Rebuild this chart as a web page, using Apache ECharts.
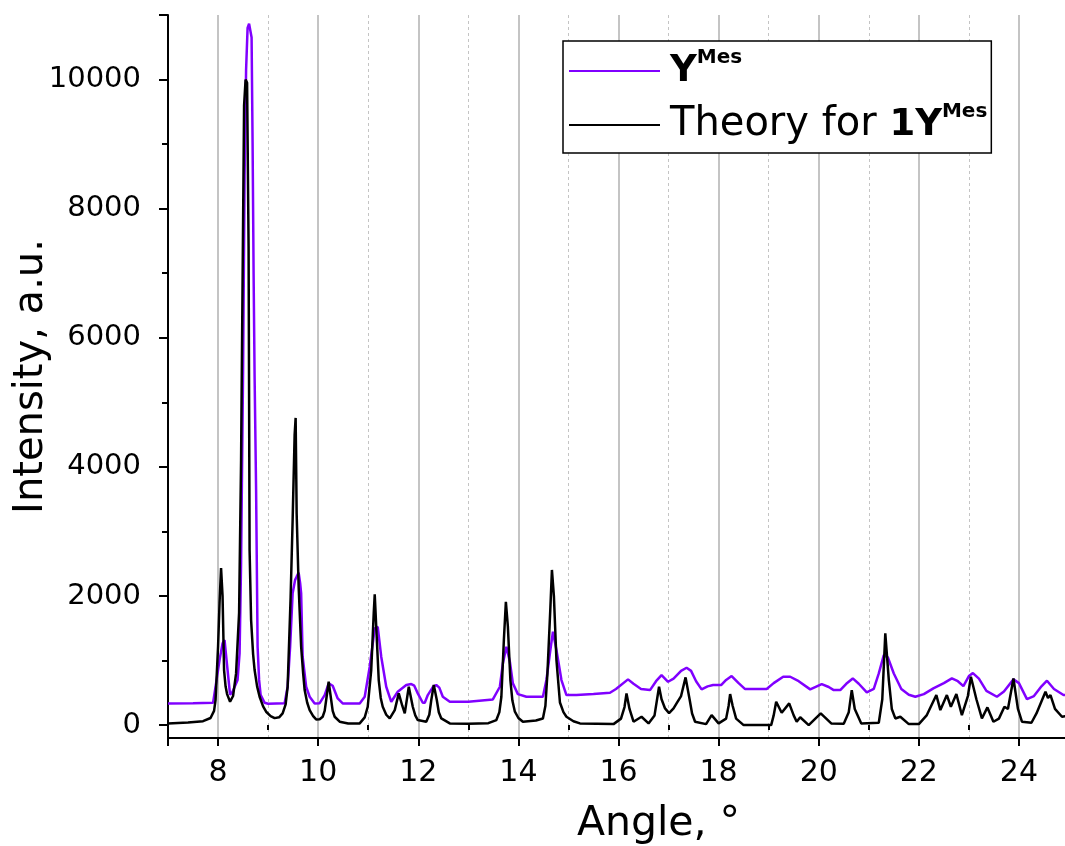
<!DOCTYPE html>
<html>
<head>
<meta charset="utf-8">
<script src="https://cdn.jsdelivr.net/npm/echarts@6/dist/echarts.min.js"></script>
<style>
  html, body { margin: 0; padding: 0; background: #fff; }
  #chart { width: 1065px; height: 846px; }
</style>
</head>
<body>
<div id="chart"></div>
<script>
// measured pattern, [angle, intensity]
const measured = [
  [7.0, 335], [7.5, 340], [7.9, 345], [7.96, 646], [8.03, 1008], [8.09, 1266], [8.13, 1318],
  [8.19, 853], [8.24, 470], [8.29, 517], [8.39, 698], [8.43, 1111], [8.46, 2506], [8.5, 5500],
  [8.53, 8500], [8.56, 10150], [8.59, 10800], [8.62, 10866], [8.65, 10850], [8.67, 10650],
  [8.69, 9000], [8.71, 7000], [8.73, 5400], [8.76, 3643], [8.79, 1214], [8.82, 700], [8.85, 470],
  [8.93, 346], [9.0, 330], [9.33, 340], [9.39, 594], [9.44, 1214], [9.49, 2041], [9.54, 2250],
  [9.57, 2299], [9.61, 2361], [9.64, 2200], [9.66, 2041], [9.69, 1059], [9.76, 594], [9.83, 439],
  [9.93, 336], [10.03, 340], [10.13, 465], [10.21, 646], [10.29, 610], [10.39, 413], [10.49, 336],
  [10.83, 336], [10.93, 439], [11.03, 904], [11.13, 1499], [11.19, 1520], [11.26, 1059],
  [11.36, 594], [11.46, 361], [11.59, 517], [11.76, 620], [11.86, 635], [11.92, 610], [11.99, 491],
  [12.09, 346], [12.13, 346], [12.19, 465], [12.3, 600], [12.36, 620], [12.42, 580], [12.49, 439],
  [12.63, 361], [13.0, 361], [13.49, 398], [13.63, 594], [13.69, 956], [13.76, 1214], [13.79, 1204],
  [13.83, 981], [13.89, 646], [13.99, 480], [14.16, 439], [14.49, 439], [14.56, 698], [14.63, 1111],
  [14.69, 1447], [14.71, 1447], [14.76, 1163], [14.86, 698], [14.96, 465], [15.16, 465], [15.5, 480],
  [15.83, 501], [15.95, 560], [16.19, 708], [16.3, 640], [16.45, 560], [16.63, 542], [16.75, 680],
  [16.86, 775], [16.99, 671], [17.1, 720], [17.25, 840], [17.36, 888], [17.45, 840], [17.55, 680],
  [17.66, 553], [17.78, 600], [17.89, 620], [18.05, 620], [18.15, 700], [18.26, 760], [18.4, 650],
  [18.53, 558], [18.96, 558], [19.1, 650], [19.29, 749], [19.43, 749], [19.6, 680], [19.83, 553],
  [20.06, 635], [20.2, 590], [20.3, 542], [20.43, 542], [20.55, 640], [20.68, 723], [20.8, 640],
  [20.96, 506], [21.1, 560], [21.2, 800], [21.3, 1085], [21.38, 1050], [21.5, 800], [21.65, 560],
  [21.8, 470], [21.93, 439], [22.1, 480], [22.29, 569], [22.5, 650], [22.66, 723], [22.78, 680],
  [22.89, 604], [23.0, 760], [23.08, 805], [23.2, 720], [23.35, 530], [23.56, 439], [23.7, 520],
  [23.89, 708], [24.0, 650], [24.16, 403], [24.3, 450], [24.45, 600], [24.56, 687], [24.7, 560],
  [24.89, 465], [25.0, 470]
];

// calculated pattern for 1Y
const theory = [
  [7.0, 25], [7.4, 40], [7.7, 60], [7.85, 110], [7.92, 220], [7.95, 388], [8.0, 1214], [8.03, 1900],
  [8.06, 2433], [8.09, 2000], [8.12, 853], [8.15, 600], [8.18, 480], [8.24, 361], [8.3, 450],
  [8.36, 801], [8.42, 1736], [8.46, 4108], [8.49, 6900], [8.52, 9600], [8.55, 10000], [8.58, 9950],
  [8.61, 7400], [8.63, 2713], [8.66, 1628], [8.7, 1100], [8.73, 853], [8.78, 600], [8.83, 439],
  [8.9, 290], [8.96, 207], [9.05, 140], [9.13, 108], [9.22, 120], [9.29, 181], [9.35, 320],
  [9.39, 594], [9.45, 1989], [9.49, 3178], [9.53, 4500], [9.55, 4758], [9.57, 3281], [9.61, 2144],
  [9.66, 1214], [9.7, 800], [9.73, 542], [9.78, 350], [9.83, 232], [9.9, 140], [9.96, 88],
  [10.03, 90], [10.09, 129], [10.13, 220], [10.16, 388], [10.21, 671], [10.26, 388], [10.29, 220],
  [10.33, 129], [10.43, 52], [10.6, 26], [10.83, 26], [10.93, 120], [10.99, 284], [11.06, 853],
  [11.11, 1731], [11.13, 2026], [11.16, 1524], [11.21, 698], [11.25, 420], [11.29, 284], [11.36, 160],
  [11.43, 103], [11.53, 232], [11.61, 491], [11.64, 517], [11.68, 300], [11.73, 181], [11.81, 594],
  [11.84, 604], [11.89, 284], [11.94, 150], [11.99, 78], [12.16, 52], [12.22, 160], [12.26, 388],
  [12.31, 620], [12.37, 388], [12.41, 200], [12.46, 103], [12.63, 26], [13.0, 20], [13.4, 30],
  [13.56, 78], [13.62, 200], [13.66, 439], [13.71, 1318], [13.75, 1911], [13.79, 1524], [13.84, 698],
  [13.88, 380], [13.93, 207], [14.0, 110], [14.09, 52], [14.35, 70], [14.49, 103], [14.54, 300],
  [14.58, 801], [14.64, 1834], [14.67, 2403], [14.71, 1989], [14.76, 1008], [14.83, 350],
  [14.9, 200], [14.96, 129], [15.1, 60], [15.23, 26], [15.9, 15], [16.05, 100], [16.12, 280],
  [16.16, 491], [16.22, 250], [16.3, 52], [16.46, 129], [16.6, 26], [16.72, 150], [16.81, 594],
  [16.86, 400], [16.93, 258], [17.01, 186], [17.1, 260], [17.16, 336], [17.25, 450], [17.34, 739],
  [17.42, 400], [17.47, 180], [17.53, 52], [17.75, 15], [17.86, 155], [18.0, 26], [18.15, 100],
  [18.2, 300], [18.23, 480], [18.28, 300], [18.35, 100], [18.5, 0], [19.05, 0], [19.1, 150],
  [19.15, 361], [19.26, 191], [19.41, 336], [19.5, 150], [19.56, 52], [19.63, 122], [19.8, 0],
  [20.04, 181], [20.25, 26], [20.5, 20], [20.6, 200], [20.66, 542], [20.72, 250], [20.85, 26],
  [21.2, 36], [21.27, 400], [21.33, 1421], [21.4, 700], [21.46, 250], [21.53, 103], [21.63, 129],
  [21.8, 15], [22.0, 15], [22.16, 155], [22.35, 465], [22.43, 232], [22.56, 465], [22.64, 284],
  [22.75, 480], [22.86, 155], [22.98, 450], [23.04, 749], [23.15, 400], [23.26, 103], [23.37, 274],
  [23.49, 52], [23.6, 100], [23.71, 284], [23.78, 250], [23.89, 723], [23.98, 250], [24.06, 52],
  [24.25, 36], [24.35, 181], [24.53, 517], [24.58, 420], [24.63, 465], [24.72, 250], [24.86, 129],
  [25.0, 150]
];

// ticks
const xMajorTicks = [7, 8, 10, 12, 14, 16, 18, 20, 22, 24];
const xLabels = [8, 10, 12, 14, 16, 18, 20, 22, 24];
const xMinorTicks = [9, 11, 13, 15, 17, 19, 21, 23];
const yMajorTicks = [0, 2000, 4000, 6000, 8000, 10000, 11000];
const yLabels = [0, 2000, 4000, 6000, 8000, 10000];
const yMinorTicks = [1000, 3000, 5000, 7000, 9000];

const FONT = 'DejaVu Sans';

const chart = echarts.init(document.getElementById('chart'));

const xRange = { min: 7, max: 25 };
const yRange = { min: -200, max: 11000 };

chart.setOption({
  backgroundColor: '#fff',
  animation: false,
  grid: {
    left: 168, top: 15, right: -4, bottom: 108,
    containLabel: false,
    outerBoundsMode: 'none'
  },
  legend: {
    orient: 'vertical',
    left: 563,
    top: 41,
    padding: [7, 4, 5, 6],
    itemGap: 8,
    itemWidth: 91,
    itemHeight: 2,
    icon: 'rect',
    borderColor: '#000',
    borderWidth: 1.5,
    backgroundColor: '#fff',
    data: ['YMes', 'Theory for 1YMes'],
    formatter: name => name === 'YMes'
      ? '{g|}{b|Y}{sup|Mes}'
      : '{g|}{n|Theory for }{b|1Y}{sup|Mes}',
    textStyle: {
      color: '#000',
      fontFamily: FONT,
      lineHeight: 46,
      rich: {
        g: { width: 5 },
        n: { fontFamily: FONT, fontSize: 40, color: '#000', lineHeight: 46 },
        b: { fontFamily: FONT, fontSize: 37, fontWeight: 'bold', color: '#000', lineHeight: 46 },
        sup: { fontFamily: FONT, fontSize: 20, fontWeight: 'bold', color: '#000', padding: [0, 0, 26, 0] }
      }
    }
  },
  xAxis: [
    {
      type: 'value',
      position: 'bottom',
      min: xRange.min, max: xRange.max,
      name: 'Angle, °',
      nameLocation: 'middle',
      nameGap: 66,
      nameMoveOverlap: false,
      nameTextStyle: { fontFamily: FONT, fontSize: 41, color: '#000', padding: [0, 0, 0, 80] },
      axisLine: { show: true, onZero: false, lineStyle: { color: '#000', width: 2 } },
      axisTick: { show: true, inside: false, length: 8, customValues: xMajorTicks, lineStyle: { color: '#000', width: 2 } },
      axisLabel: { customValues: xLabels, margin: 20, fontFamily: FONT, fontSize: 30, color: '#000' },
      splitLine: { show: true, lineStyle: { color: '#b0b0b0', width: 1.5 } }
    },
    {
      type: 'value',
      position: 'bottom',
      min: xRange.min, max: xRange.max,
      axisLine: { show: false },
      axisTick: { show: true, inside: false, length: 5, customValues: xMinorTicks, lineStyle: { color: '#000', width: 2 } },
      axisLabel: { show: false },
      splitLine: { show: true, lineStyle: { color: '#c4c4c4', width: 1, type: [3, 3] } }
    }
  ],
  yAxis: [
    {
      type: 'value',
      position: 'left',
      min: yRange.min, max: yRange.max,
      name: 'Intensity, a.u.',
      nameLocation: 'middle',
      nameGap: 116,
      nameMoveOverlap: false,
      nameTextStyle: { fontFamily: FONT, fontSize: 40, color: '#000' },
      axisLine: { show: true, onZero: false, lineStyle: { color: '#000', width: 2 } },
      axisTick: { show: true, inside: false, length: 9, customValues: yMajorTicks, lineStyle: { color: '#000', width: 2 } },
      axisLabel: {
        customValues: yLabels, margin: 27, fontFamily: FONT, fontSize: 29, color: '#000',
        formatter: v => String(v)
      },
      splitLine: { show: false }
    },
    {
      type: 'value',
      position: 'left',
      min: yRange.min, max: yRange.max,
      axisLine: { show: false },
      axisTick: { show: true, inside: false, length: 6, customValues: yMinorTicks, lineStyle: { color: '#000', width: 2 } },
      axisLabel: { show: false },
      splitLine: { show: false }
    }
  ],
  series: [
    {
      name: 'YMes',
      type: 'line',
      data: measured,
      showSymbol: false,
      color: '#8000ff',
      lineStyle: { color: '#8000ff', width: 2.5 }
    },
    {
      name: 'Theory for 1YMes',
      type: 'line',
      data: theory,
      showSymbol: false,
      color: '#000',
      lineStyle: { color: '#000', width: 2.5 }
    }
  ]
});
</script>
</body>
</html>
